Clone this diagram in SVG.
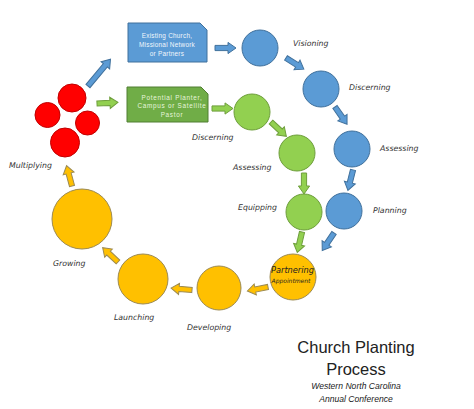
<svg xmlns="http://www.w3.org/2000/svg" xmlns:xlink="http://www.w3.org/1999/xlink" width="474" height="409" viewBox="0 0 474 409">
<style>
.b{fill:#5B9BD5;stroke:#41719C;stroke-width:1}
.g{fill:#92D050;stroke:#6E9E3C;stroke-width:1}
.o{fill:#FFC000;stroke:#9C8A52;stroke-width:1}
.r{fill:#FF0000;stroke:#C00000;stroke-width:1}
.lbl{font-family:"DejaVu Sans",sans-serif;font-style:italic;font-size:7.8px;fill:#333}
.bx{font-family:"Liberation Sans",Arial,sans-serif;font-size:6.4px;text-anchor:middle}
.t{font-family:"Liberation Sans",Arial,sans-serif;text-anchor:middle;fill:#222}
</style>
<defs>
<path id="a" d="M0,-2.6 H13 V-5.6 L21,0 L13,5.6 V2.6 H0 Z"/>
</defs>
<rect width="474" height="409" fill="#fff"/>
<g id="connectors">
<use xlink:href="#a" class="b" transform="translate(215,48)"/>
<use xlink:href="#a" class="b" transform="translate(286,58) rotate(32)"/>
<use xlink:href="#a" class="b" transform="translate(335,107) rotate(55)"/>
<use xlink:href="#a" class="b" transform="translate(353,170) rotate(104)"/>
<use xlink:href="#a" class="b" transform="translate(334,233) rotate(124)"/>
<use xlink:href="#a" class="g" transform="translate(212,108.5)"/>
<use xlink:href="#a" class="g" transform="translate(271,122) rotate(43)"/>
<use xlink:href="#a" class="g" transform="translate(304,173) rotate(90)"/>
<use xlink:href="#a" class="g" transform="translate(302,232) rotate(103)"/>
<use xlink:href="#a" class="o" transform="translate(268,287) rotate(169)"/>
<use xlink:href="#a" class="o" transform="translate(192,290) rotate(185)"/>
<use xlink:href="#a" class="o" transform="translate(118,262) rotate(223)"/>
<use xlink:href="#a" class="o" transform="translate(72,186) rotate(255)"/>
<path class="b" transform="translate(88,86) rotate(-50)" d="M0,-2.6 H27 V-5.6 L35,0 L27,5.6 V2.6 H0 Z"/>
<use xlink:href="#a" class="g" transform="translate(97,103.5) rotate(-3)"/>
</g>
<g id="box-existing">
<path class="b" d="M128,23 H200 L207,30 V62 H128 Z"/>
<text class="bx" fill="#F2F7FC" letter-spacing="0.25"><tspan x="167" y="37.5">Existing Church,</tspan><tspan x="167" y="46.5">Missional Network</tspan><tspan x="167" y="56">or Partners</tspan></text>
</g>
<g id="box-potential">
<path d="M127,87 H201 L208,94 V122 H127 Z" fill="#70AD47" stroke="#507E32"/>
<text class="bx" fill="#E6F5DC" letter-spacing="0.7"><tspan x="172" y="99.5">Potential Planter,</tspan><tspan x="172" y="108">Campus or Satellite</tspan><tspan x="172" y="116.5">Pastor</tspan></text>
</g>
<g id="visioning"><circle class="b" cx="260" cy="48" r="18"/><text class="lbl" x="293" y="46">Visioning</text></g>
<g id="discerning-blue"><circle class="b" cx="321" cy="89" r="18"/><text class="lbl" x="349" y="90">Discerning</text></g>
<g id="assessing-blue"><circle class="b" cx="352" cy="149" r="18"/><text class="lbl" x="380" y="151">Assessing</text></g>
<g id="planning"><circle class="b" cx="344" cy="211" r="18"/><text class="lbl" x="373" y="213">Planning</text></g>
<g id="discerning-green"><circle class="g" cx="252" cy="112" r="18"/><text class="lbl" x="192" y="140">Discerning</text></g>
<g id="assessing-green"><circle class="g" cx="297" cy="153" r="18"/><text class="lbl" x="233" y="170">Assessing</text></g>
<g id="equipping"><circle class="g" cx="304" cy="212" r="18"/><text class="lbl" x="238" y="210">Equipping</text></g>
<g id="partnering"><circle class="o" cx="293" cy="277" r="23"/>
<text x="292.5" y="273" text-anchor="middle" font-family="DejaVu Sans,sans-serif" font-style="italic" font-size="8.2" fill="#222">Partnering</text>
<text x="291" y="283" text-anchor="middle" font-family="DejaVu Sans,sans-serif" font-style="italic" font-size="6" fill="#222">Appointment</text></g>
<g id="developing"><circle class="o" cx="219" cy="288" r="22"/><text class="lbl" x="187" y="330">Developing</text></g>
<g id="launching"><circle class="o" cx="143" cy="279" r="25"/><text class="lbl" x="114" y="320">Launching</text></g>
<g id="growing"><circle class="o" cx="82" cy="219" r="30"/><text class="lbl" x="53" y="266">Growing</text></g>
<g id="multiplying">
<circle class="r" cx="72" cy="98" r="14"/>
<circle class="r" cx="47.5" cy="115" r="12.5"/>
<circle class="r" cx="87.5" cy="123" r="12"/>
<circle class="r" cx="65" cy="142.5" r="14.5"/>
<text class="lbl" x="9" y="168">Multiplying</text>
</g>
<g id="title">
<text class="t" x="356" y="353" font-size="16.5">Church Planting</text>
<text class="t" x="356" y="375" font-size="16.5">Process</text>
<text class="t" x="356" y="389" font-size="8.6" font-style="italic">Western North Carolina</text>
<text class="t" x="356" y="402" font-size="8.6" font-style="italic">Annual Conference</text>
</g>
</svg>
